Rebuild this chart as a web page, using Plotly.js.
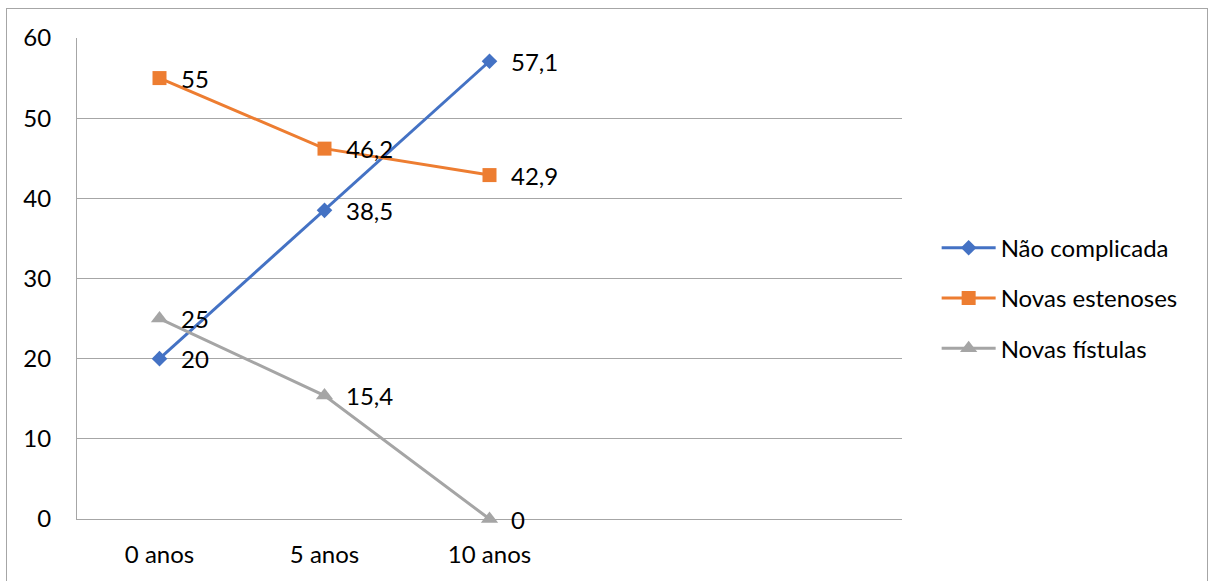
<!DOCTYPE html>
<html>
<head>
<meta charset="utf-8">
<script src="https://cdn.plot.ly/plotly-3.0.1.min.js"></script>
<style>
html,body{margin:0;padding:0;background:#fff;}
#frame{position:absolute;left:6px;top:8px;width:1202px;height:620px;border:1.5px solid #a6a6a6;box-sizing:border-box;}
#chart{position:absolute;left:0;top:0;width:1208px;height:581px;}
</style>
</head>
<body>
<div id="frame"></div>
<div id="chart"></div>
<script>
const categories = ["0 anos", "5 anos", "10 anos"];
const naoComplicada = [20, 38.5, 57.1];
const novasEstenoses = [55, 46.2, 42.9];
const novasFistulas = [25, 15.4, 0];
const seriesNames = ["Não complicada", "Novas estenoses", "Novas fístulas"];
const seriesColors = ["#4472C4", "#ED7D31", "#A5A5A5"];
const seriesSymbols = ["diamond", "square", "triangle-up"];
const seriesSizes = [12, 14, 15];
const yTicks = [0, 10, 20, 30, 40, 50, 60];

const FONT = "Lato, 'Open Sans', sans-serif";
const FS = 24;
const allSeries = [naoComplicada, novasEstenoses, novasFistulas];
const xIdx = categories.map((c, i) => i);

const traces = allSeries.map((vals, s) => ({
  type: "scatter",
  mode: "lines+markers",
  x: xIdx,
  y: vals,
  name: seriesNames[s],
  legendgroup: "g" + s,
  cliponaxis: false,
  line: {color: seriesColors[s], width: 3},
  marker: {color: seriesColors[s], symbol: seriesSymbols[s], size: seriesSizes[s]},
  hoverinfo: "skip"
}));

const annotations = [];
allSeries.forEach((vals, s) => {
  vals.forEach((v, i) => {
    annotations.push({
      x: xIdx[i], y: v, xref: "x", yref: "y",
      text: String(v).replace(".", ","),
      showarrow: false, xanchor: "left", yanchor: "middle",
      xshift: 19,
      font: {family: FONT, size: FS, color: "#000"}
    });
  });
});

const layout = {
  width: 1208, height: 581,
  margin: {l: 77, r: 306, t: 38, b: 62},
  paper_bgcolor: "rgba(0,0,0,0)",
  plot_bgcolor: "rgba(0,0,0,0)",
  font: {family: FONT, size: FS, color: "#000"},
  showlegend: true,
  legend: {
    x: 1.042, xanchor: "left", y: 0.459, yanchor: "middle",
    font: {family: FONT, size: FS, color: "#000"},
    tracegroupgap: 16,
    itemwidth: 54,
    bgcolor: "rgba(0,0,0,0)"
  },
  xaxis: {
    range: [-0.5, 4.5],
    tickvals: xIdx, ticktext: categories,
    showgrid: false, zeroline: false,
    showline: true, linecolor: "#a6a6a6", linewidth: 1,
    ticks: "",
    ticklabelstandoff: 14,
    fixedrange: true
  },
  yaxis: {
    range: [0, 60],
    tickvals: yTicks,
    showgrid: true, gridcolor: "#a6a6a6", gridwidth: 1,
    zeroline: false,
    showline: true, linecolor: "#a6a6a6", linewidth: 1,
    ticks: "",
    ticklabelstandoff: 20,
    fixedrange: true
  },
  annotations: annotations
};

Plotly.newPlot("chart", traces, layout, {displayModeBar: false, staticPlot: true});
</script>
</body>
</html>
